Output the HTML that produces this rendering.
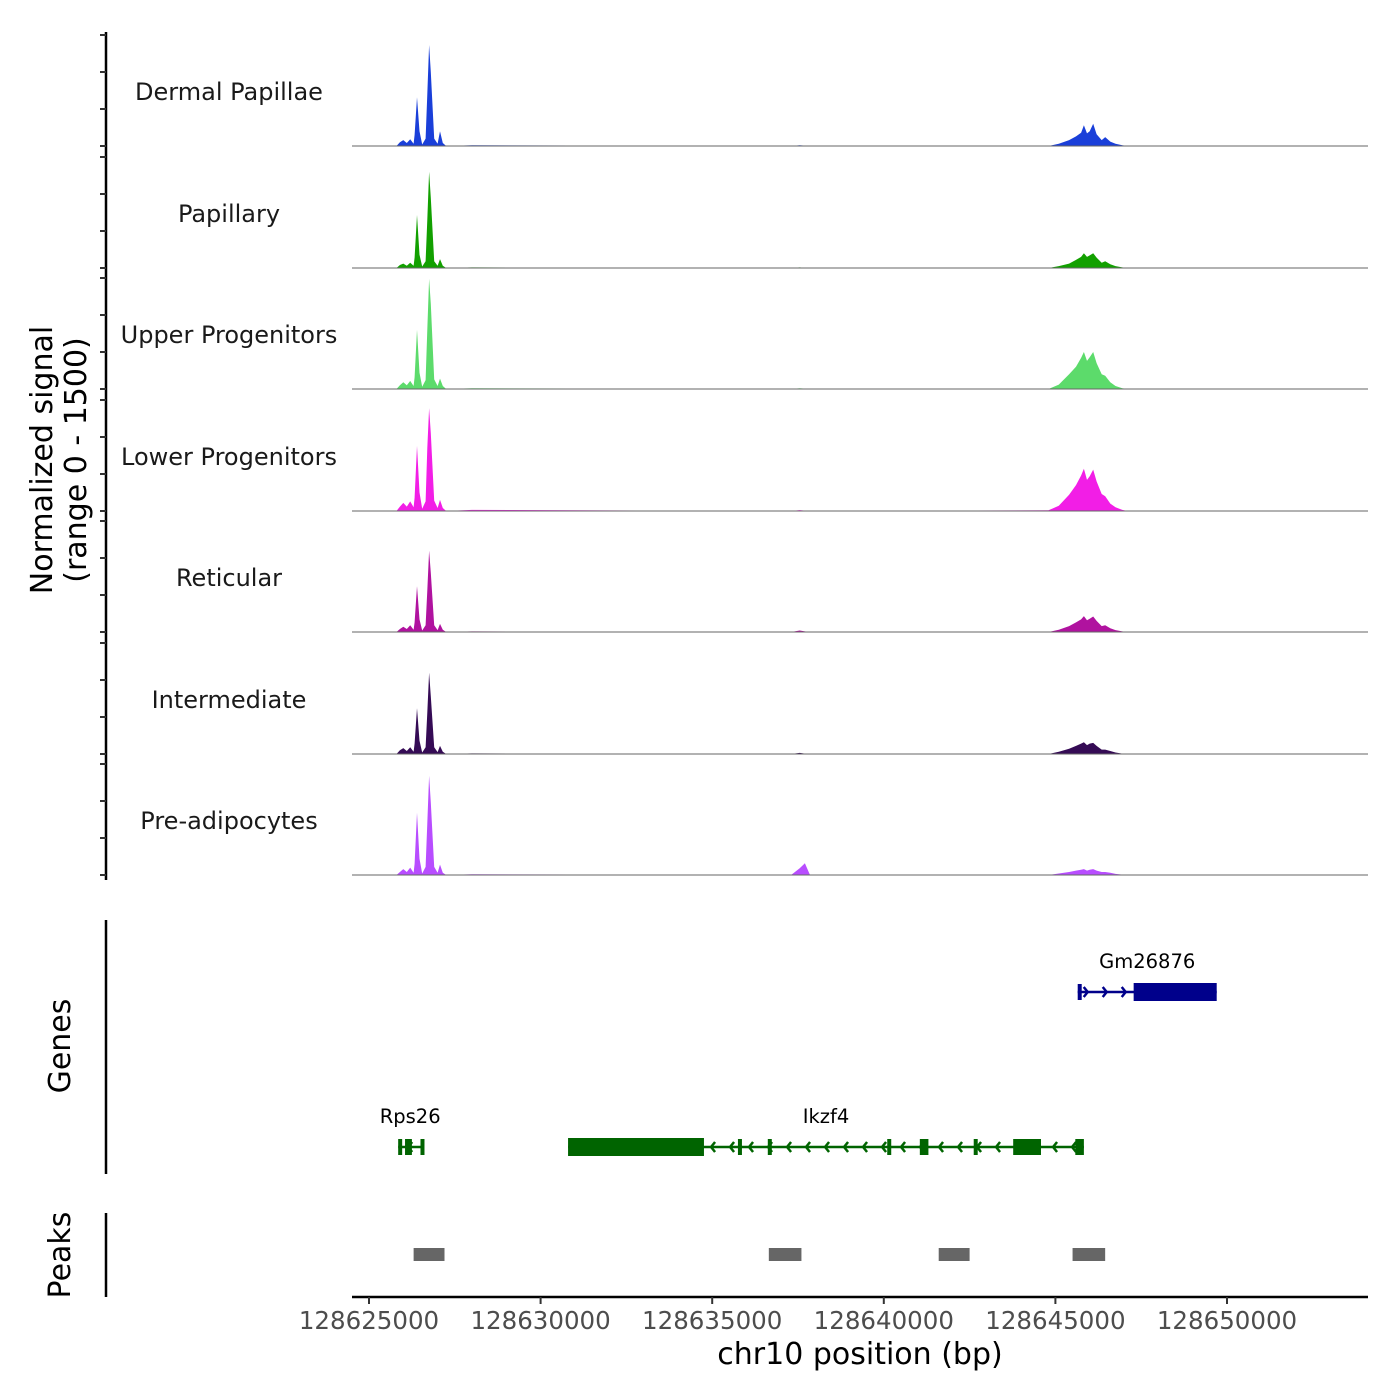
<!DOCTYPE html>
<html><head><meta charset="utf-8"><style>
body{margin:0;background:#fff}
svg{display:block;font-family:"DejaVu Sans","Liberation Sans",sans-serif}
</style></head><body>
<svg id="chart" width="1400" height="1400" viewBox="0 0 1400 1400" xmlns="http://www.w3.org/2000/svg">
<rect width="1400" height="1400" fill="#fff"/>
<g id="tracks"></g>
<g id="yaxis"></g>
<text transform="translate(52,460) rotate(-90)" text-anchor="middle" font-size="30" fill="#000">Normalized signal</text>
<text transform="translate(86,460) rotate(-90)" text-anchor="middle" font-size="30" fill="#000">(range 0 - 1500)</text>
<line x1="106" y1="920" x2="106" y2="1174" stroke="#000" stroke-width="2.5"/>
<text transform="translate(70,1046) rotate(-90)" text-anchor="middle" font-size="30">Genes</text>
<line x1="106" y1="1213" x2="106" y2="1297" stroke="#000" stroke-width="2.5"/>
<text transform="translate(70,1255) rotate(-90)" text-anchor="middle" font-size="30">Peaks</text>
<g id="genes"></g>
<g id="peaks"></g>
<g id="xaxis"></g>
<text x="860" y="1364" text-anchor="middle" font-size="30">chr10 position (bp)</text>
</svg>
<script>
const positions = [128624500,128625800,128625900,128626000,128626100,128626200,128626300,128626330,128626400,128626470,128626550,128626650,128626700,128626750,128626800,128626900,128627000,128627070,128627150,128627250,128628000,128637300,128637550,128637700,128637850,128644800,128645100,128645400,128645600,128645750,128645830,128645920,128646000,128646100,128646200,128646350,128646450,128646600,128646750,128646950,128647100,128654200];
const trackNames = ["Dermal Papillae","Papillary","Upper Progenitors","Lower Progenitors","Reticular","Intermediate","Pre-adipocytes"];
const trackColors = ["#1a3fd9","#12a000","#5cdb6b","#f21ee6","#b0129f","#350b55","#b84dff"];
const dermal = [0,0,50,80,40,90,30,150,660,200,20,100,700,1365,1000,100,30,200,40,0,10,0,10,5,0,0,30,80,130,180,280,170,200,300,160,80,120,60,30,10,0,0];
const papillary = [0,0,40,60,30,70,30,140,716,180,20,90,650,1300,950,90,30,120,30,0,8,0,8,4,0,0,25,60,110,150,200,150,170,200,140,70,90,50,25,8,0,0];
const upper = [0,0,50,90,50,110,40,160,800,220,30,120,800,1490,1150,130,40,140,40,0,10,0,10,5,0,0,60,200,300,420,500,380,430,500,350,200,180,90,40,10,0,0];
const lower = [0,0,60,110,60,130,50,180,880,250,30,130,850,1390,1050,140,40,150,40,0,15,0,12,6,0,10,70,220,350,480,570,420,470,560,400,230,200,100,50,15,0,0];
const reticular = [0,0,40,70,40,90,30,130,620,170,20,90,560,1100,800,90,25,110,30,0,8,0,20,8,0,0,30,80,130,170,215,160,180,210,150,80,90,50,25,8,0,0];
const intermediate = [0,0,50,80,40,90,30,140,620,180,20,90,560,1100,780,90,25,110,30,0,8,0,15,6,0,0,30,70,110,140,160,120,140,150,110,60,60,40,20,5,0,0];
const preadipo = [0,0,40,80,40,100,30,150,840,220,20,110,700,1340,980,110,30,140,30,0,10,0,90,160,0,0,20,40,60,70,80,60,70,80,60,40,40,30,15,5,0,0];
const trackValues = [dermal,papillary,upper,lower,reticular,intermediate,preadipo];
const baselines = [146,268,389,511,632,754,875];
const yTicks = [0,500,1000,1500];
const xTicks = [128625000,128630000,128635000,128640000,128645000,128650000];
const genes = [
 {name:"Gm26876", strand:"+", start:128645650, end:128649700, row:0, color:"#00008b", exons:[[128645650,128645680],[128647280,128649700]]},
 {name:"Rps26", strand:"-", start:128625850, end:128626550, row:1, color:"#006400", exons:[[128625850,128625900],[128626050,128626250],[128626500,128626550]]},
 {name:"Ikzf4", strand:"-", start:128630800, end:128645830, row:1, color:"#006400", exons:[[128630800,128634760],[128635750,128635850],[128636620,128636720],[128640100,128640200],[128641050,128641300],[128642620,128642720],[128643770,128644580],[128645580,128645830]]}
];
const peakStarts = [128626300,128636650,128641600,128645500];
const peakEnds = [128627200,128637600,128642500,128646450];

const NS="http://www.w3.org/2000/svg";
function xs(bp){return 369+(bp-128625000)*171.6/5000;}
function ys(v,base){return base-v*111/1500;}
function mk(tag,attrs,parent){const e=document.createElementNS(NS,tag);for(const k in attrs)e.setAttribute(k,attrs[k]);parent.appendChild(e);return e;}
const tracks=document.getElementById('tracks');
trackValues.forEach((vals,i)=>{
  const b=baselines[i];
  let d="M"+xs(positions[0])+","+b;
  vals.forEach((v,j)=>{d+=" L"+xs(positions[j]).toFixed(1)+","+ys(v,b).toFixed(1);});
  d+=" L"+xs(positions[positions.length-1])+","+b+" Z";
  const p=mk('path',{d:d,fill:trackColors[i]},tracks);
  
  
  const l=mk('line',{x1:352,x2:1368,y1:b,y2:b,stroke:"#666","stroke-width":1},tracks);
  
  
  const t=mk('text',{x:229,y:b-46,"text-anchor":"middle","font-size":24,fill:"#1a1a1a"},tracks);
  t.textContent=trackNames[i];
  
  
});
const yaxis=document.getElementById('yaxis');
const al=mk('line',{x1:106,x2:106,y1:32,y2:880,stroke:"#000","stroke-width":2.5},yaxis);


baselines.forEach(b=>{yTicks.forEach(v=>{
  const t=mk('line',{x1:100,x2:106,y1:ys(v,b),y2:ys(v,b),stroke:"#333","stroke-width":2},yaxis);
  
  
});});
const gg=document.getElementById('genes');
const rowY=[992,1147];
genes.forEach(g=>{
  const y=rowY[g.row];
  const grp=mk('g',{},gg);
  
  
  mk('line',{x1:xs(g.start),x2:xs(g.end),y1:y,y2:y,stroke:g.color,"stroke-width":2.5},grp);
  const x0=xs(g.start),x1=xs(g.end);
  for(let x=x0+10;x<x1-6;x+=19){
    const dir=g.strand=="+"?1:-1;
    mk('polyline',{points:(x-4*dir)+","+(y-5)+" "+x+","+y+" "+(x-4*dir)+","+(y+5),fill:"none",stroke:g.color,"stroke-width":2.5},grp);
  }
  g.exons.forEach(e=>{
    const w=Math.max(xs(e[1])-xs(e[0]),4);
    const h=(e[1]-e[0])>1000?18:16;
    mk('rect',{x:xs(e[0]),y:y-h/2,width:w,height:h,fill:g.color},grp);
  });
  const t=mk('text',{x:(x0+x1)/2,y:y-24,"text-anchor":"middle","font-size":19.5,fill:"#000"},grp);
  t.textContent=g.name;
});
const pg=document.getElementById('peaks');
peakStarts.forEach((s,i)=>{
  const r=mk('rect',{x:xs(s),y:1248,width:xs(peakEnds[i])-xs(s),height:13,fill:"#666"},pg);
  
  
});
const xa=document.getElementById('xaxis');
mk('line',{x1:352,x2:1368,y1:1297,y2:1297,stroke:"#000","stroke-width":2.5},xa);
xTicks.forEach(v=>{
  const t=mk('line',{x1:xs(v),x2:xs(v),y1:1297,y2:1304,stroke:"#333","stroke-width":2},xa);
  
  
  const l=mk('text',{x:xs(v),y:1329,"text-anchor":"middle","font-size":24.5,fill:"#4d4d4d"},xa);
  l.textContent=v;
  
  
});
</script>
</body></html>
